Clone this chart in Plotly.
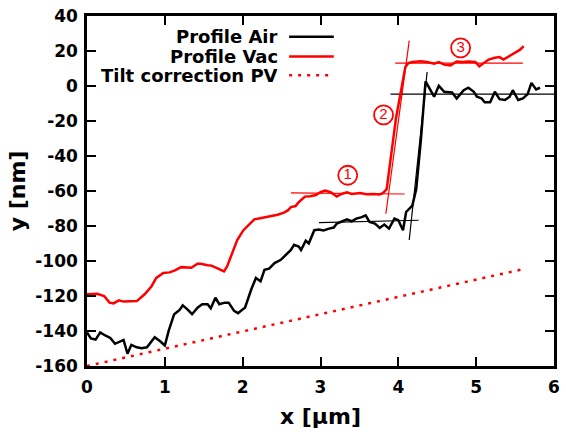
import plotly.graph_objects as go

# Height profiles across the step (x in µm, y in nm)
vac_x = [0.00, 0.13, 0.22, 0.29, 0.34, 0.41, 0.47, 0.64, 0.74, 0.83, 0.89, 0.98, 1.06, 1.13,
         1.21, 1.34, 1.42, 1.46, 1.55, 1.59, 1.65, 1.76, 1.80, 1.87, 1.93, 2.01, 2.07, 2.15,
         2.24, 2.34, 2.45, 2.53, 2.58, 2.62, 2.68, 2.72, 2.80, 2.87, 2.94, 3.00, 3.06, 3.13,
         3.21, 3.27, 3.34, 3.40, 3.51, 3.59, 3.68, 3.76, 3.80, 3.85, 3.89, 3.93, 3.97, 4.04,
         4.09, 4.13, 4.18, 4.29, 4.37, 4.46, 4.52, 4.59, 4.67, 4.75, 4.82, 4.90, 4.99, 5.04,
         5.09, 5.16, 5.24, 5.30, 5.35, 5.41, 5.49, 5.56, 5.61]
vac_y = [-119.0, -118.7, -120.0, -123.8, -124.2, -122.5, -123.2, -122.9, -119.0, -114.4,
         -109.7, -106.9, -106.5, -105.4, -103.5, -103.9, -101.6, -101.6, -102.4, -102.5,
         -103.7, -105.9, -103.1, -94.6, -88.0, -82.4, -79.5, -76.2, -75.4, -74.5, -73.6,
         -72.4, -71.1, -69.2, -68.6, -66.4, -63.2, -63.0, -62.3, -60.7, -59.8, -60.7, -63.2,
         -61.7, -60.7, -61.7, -61.1, -61.9, -61.7, -62.0, -61.3, -58.9, -45.6, -32.5, -18.4,
         -1.4, 10.8, 13.1, 13.7, 14.2, 13.7, 12.7, 13.7, 12.2, 11.8, 14.0, 13.7, 14.0, 13.7,
         11.2, 12.7, 15.1, 16.1, 16.5, 15.1, 16.8, 18.8, 20.6, 22.7]

air_x = [0.00, 0.05, 0.11, 0.17, 0.24, 0.30, 0.36, 0.43, 0.47, 0.52, 0.57, 0.64, 0.70, 0.77,
         0.87, 0.94, 1.00, 1.05, 1.12, 1.19, 1.23, 1.29, 1.35, 1.42, 1.48, 1.55, 1.59, 1.65,
         1.70, 1.77, 1.82, 1.89, 1.94, 1.99, 2.03, 2.11, 2.17, 2.23, 2.28, 2.34, 2.41, 2.49,
         2.55, 2.62, 2.66, 2.72, 2.75, 2.81, 2.85, 2.92, 2.98, 3.04, 3.11, 3.17, 3.21, 3.27,
         3.34, 3.40, 3.46, 3.53, 3.58, 3.63, 3.70, 3.76, 3.82, 3.88, 3.95, 4.00, 4.06, 4.10,
         4.14, 4.18, 4.23, 4.26, 4.29, 4.32, 4.35, 4.46, 4.52, 4.59, 4.69, 4.75, 4.84, 4.90,
         4.97, 5.01, 5.07, 5.11, 5.18, 5.24, 5.30, 5.37, 5.43, 5.47, 5.54, 5.60, 5.66, 5.71,
         5.77, 5.82]
air_y = [-140.8, -144.2, -144.9, -140.8, -142.7, -144.0, -147.3, -146.0, -145.1, -153.0,
         -147.9, -149.3, -149.8, -149.3, -143.6, -145.9, -148.3, -139.8, -130.4, -128.0,
         -125.3, -127.6, -130.4, -126.7, -124.7, -124.7, -127.0, -121.0, -124.7, -123.8,
         -123.8, -128.5, -129.8, -128.0, -126.7, -116.3, -109.7, -111.6, -105.0, -104.4,
         -101.2, -99.3, -96.5, -93.7, -90.8, -91.8, -93.7, -88.4, -89.9, -82.4, -82.0, -82.6,
         -81.5, -80.9, -78.6, -77.3, -76.2, -77.3, -75.8, -74.9, -73.9, -77.7, -78.6, -81.1,
         -79.2, -81.5, -75.8, -76.7, -82.4, -72.0, -70.2, -68.3, -58.9, -45.6, -30.6, -13.7,
         2.7, -6.1, 0.1, -3.3, -3.7, -7.1, -2.4, -1.0, -3.3, -6.1, -7.1, -9.3, -9.3, -3.3,
         -7.5, -8.0, -6.1, -2.4, -8.0, -7.1, -4.8, 1.8, -2.0, -1.0]

# Linear tilt correction for the vacuum profile
tilt_x = [0.0, 5.62]
tilt_y = [-160.0, -104.5]

# Fitted guide segments: (x pair, y pair)
vac_fit_x = [[2.62, 4.08], [3.84, 4.14], [3.96, 5.60]]
vac_fit_y = [[-61.1, -61.7], [-73.0, 25.9], [13.1, 13.1]]
air_fit_x = [[2.98, 4.26], [4.14, 4.37], [3.90, 6.00]]
air_fit_y = [[-78.1, -76.7], [-88.0, 8.0], [-4.6, -4.6]]

# Numbered region markers
mark_x = [3.35, 3.81, 4.80]
mark_y = [-51.0, -16.5, 21.8]
mark_txt = ["1", "2", "3"]

legend_names = ["Profile Air", "Profile Vac", "Tilt correction PV"]

x_ticks = [0, 1, 2, 3, 4, 5, 6]
y_ticks = list(range(-160, 41, 20))

RED = "#ff0000"
FONT = "DejaVu Sans"

fig = go.Figure()

for fx, fy in zip(vac_fit_x, vac_fit_y):
    fig.add_trace(go.Scatter(x=fx, y=fy, mode="lines",
                             line=dict(color=RED, width=1.2), hoverinfo="skip"))
for fx, fy in zip(air_fit_x, air_fit_y):
    fig.add_trace(go.Scatter(x=fx, y=fy, mode="lines",
                             line=dict(color="black", width=1.2), hoverinfo="skip"))

fig.add_trace(go.Scatter(x=air_x, y=air_y, mode="lines", name=legend_names[0],
                         line=dict(color="black", width=2.5)))
fig.add_trace(go.Scatter(x=vac_x, y=vac_y, mode="lines", name=legend_names[1],
                         line=dict(color=RED, width=2.5)))
fig.add_trace(go.Scatter(x=tilt_x, y=tilt_y, mode="lines", name=legend_names[2],
                         line=dict(color=RED, width=2.5, dash="3px,6px")))

fig.add_trace(go.Scatter(
    x=mark_x, y=mark_y, mode="markers+text", text=mark_txt,
    textposition="middle center",
    textfont=dict(family="Liberation Sans", size=15, color=RED),
    marker=dict(symbol="circle-open", size=19, color=RED, line=dict(width=1.8, color=RED)),
    hoverinfo="skip"))

# Legend drawn as right-aligned labels with line samples to their right
x0, x1, x2 = 0.4123, 0.4328, 0.5285
rows = [0.9407, 0.8842, 0.8305]
samples = [dict(color="black", width=2.5), dict(color=RED, width=2.5),
           dict(color=RED, width=2.5, dash="3px,6px")]
annotations = []
shapes = []
for name, yy, ln in zip(legend_names, rows, samples):
    annotations.append(dict(x=x0, y=yy, xref="paper", yref="paper", text=f"<b>{name}</b>",
                            showarrow=False, xanchor="right", yanchor="middle",
                            font=dict(family=FONT, size=18, color="black")))
    shapes.append(dict(type="line", xref="paper", yref="paper", x0=x1, x1=x2,
                       y0=yy, y1=yy, line=ln))

axis_common = dict(
    showgrid=False, zeroline=False, showline=True, linecolor="black", linewidth=2.5,
    mirror="ticks", ticks="inside", ticklen=9, tickwidth=2.2, tickcolor="black",
    tickfont=dict(family=FONT, size=17, color="black"),
)

fig.update_layout(
    width=566, height=435,
    margin=dict(l=87, r=6, t=12, b=69),
    paper_bgcolor="white", plot_bgcolor="white",
    showlegend=False,
    annotations=annotations, shapes=shapes,
    xaxis=dict(range=[0, 6], tickvals=x_ticks,
               ticktext=[f"<b>{v}</b>" for v in x_ticks],
               ticklabelstandoff=4,
               title=dict(text="<b>x [µm]</b>", standoff=13,
                          font=dict(family=FONT, size=22, color="black")),
               **axis_common),
    yaxis=dict(range=[-160, 40], tickvals=y_ticks,
               ticktext=[f"<b>{v}</b>" for v in y_ticks],
               ticklabelstandoff=3,
               title=dict(text="<b>y [nm]</b>", standoff=4,
                          font=dict(family=FONT, size=22, color="black")),
               **axis_common),
)

fig.write_html("out.html")
